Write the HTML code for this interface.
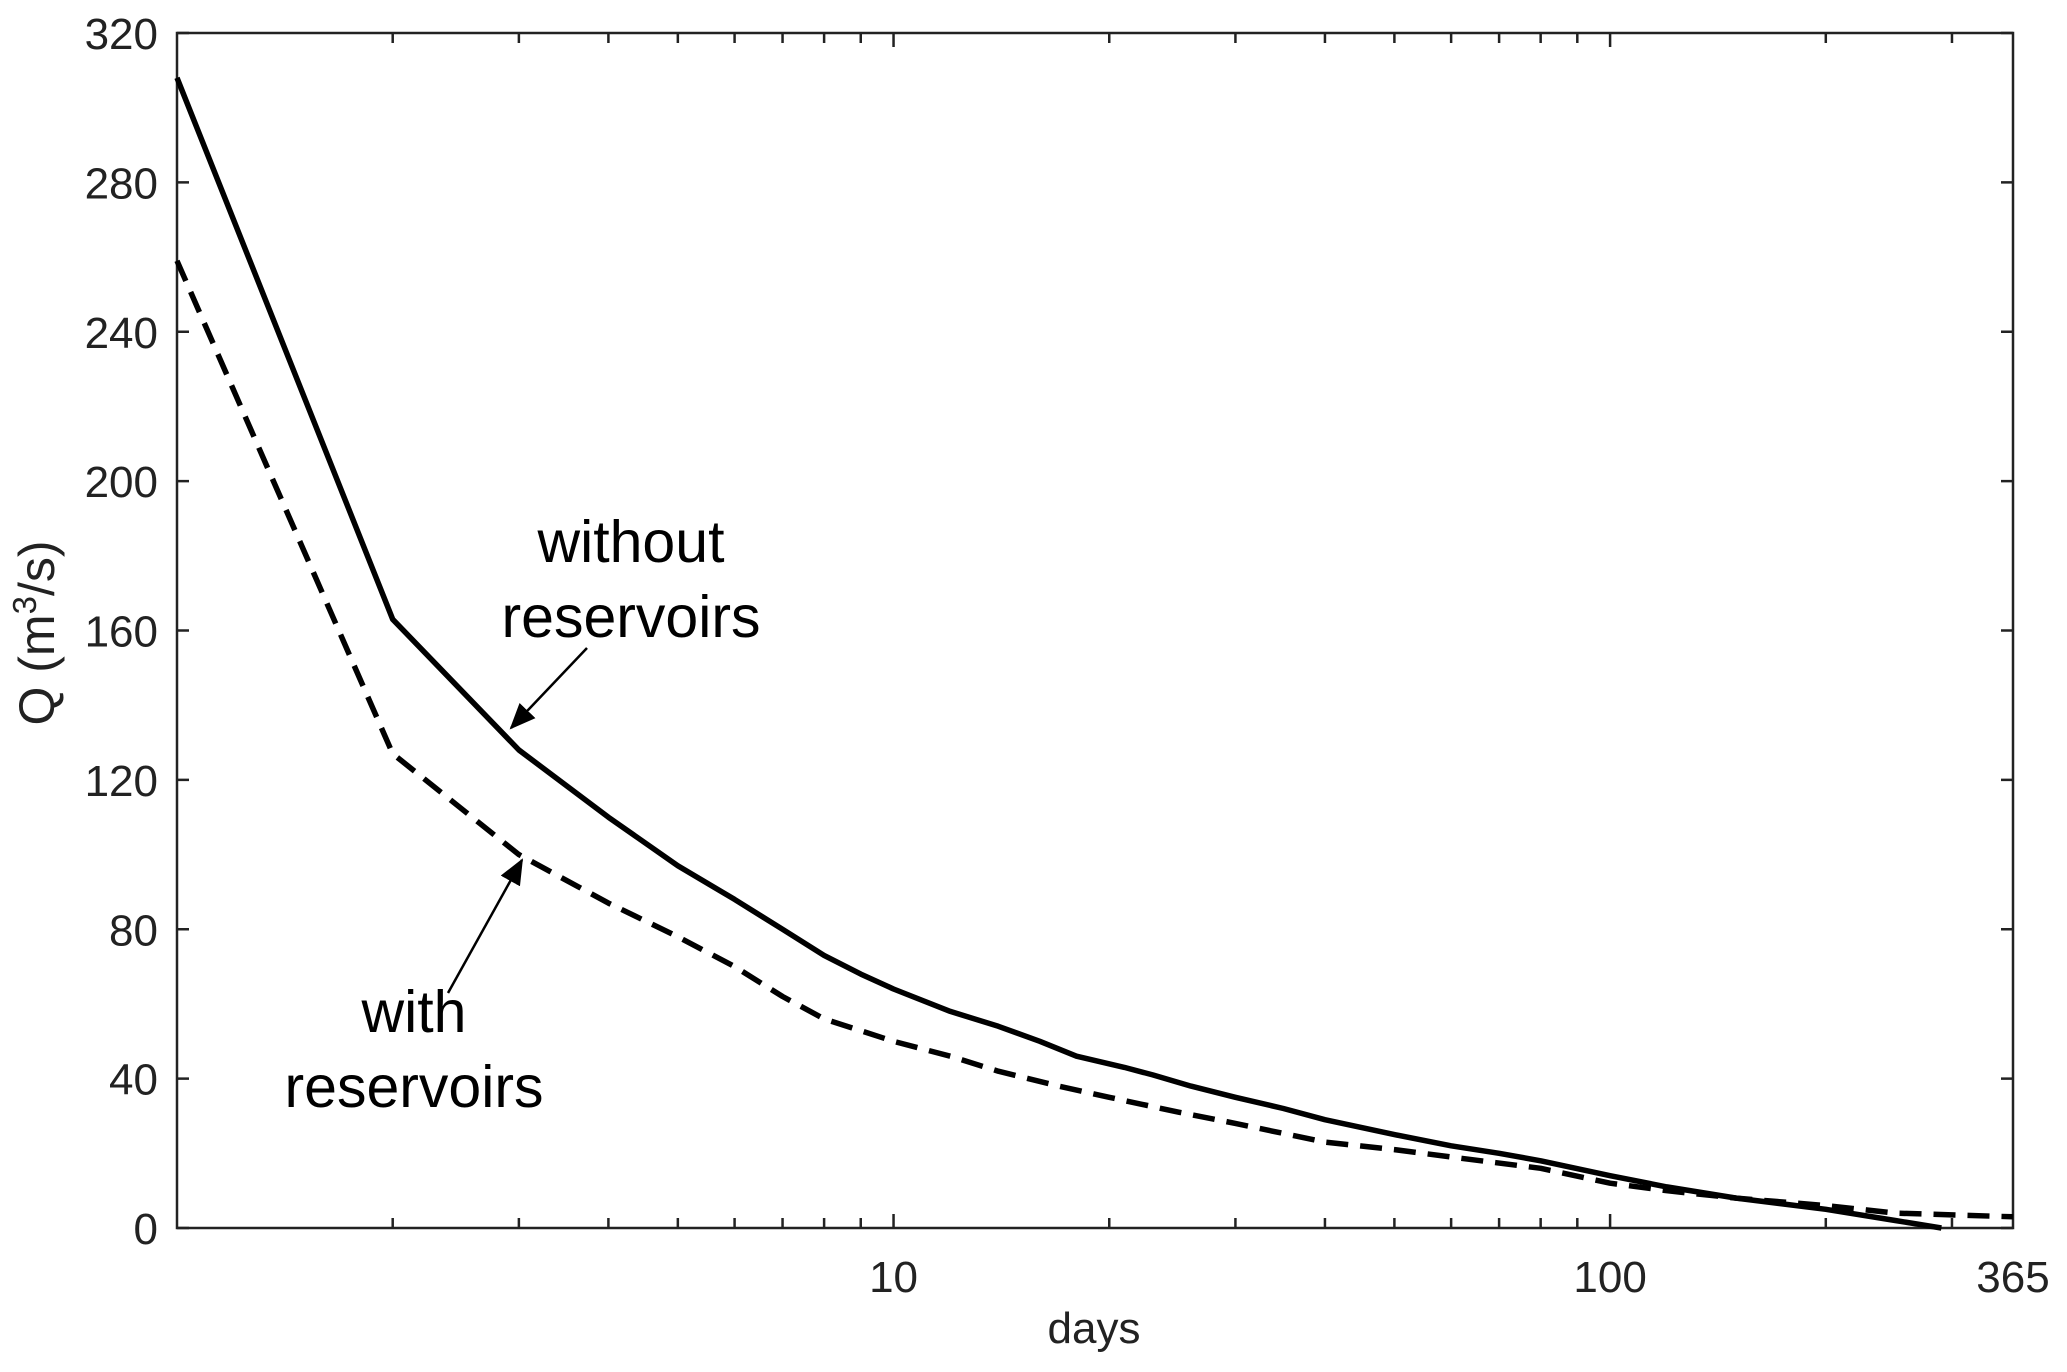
<!DOCTYPE html>
<html><head><meta charset="utf-8"><style>
html,body{margin:0;padding:0;background:#fff}
svg{display:block;font-family:"Liberation Sans",Arial,sans-serif}
</style></head><body>
<svg id="chart" width="2067" height="1372" viewBox="0 0 2067 1372">
<defs>
<marker id="ah2" markerWidth="26" markerHeight="22" refX="24" refY="11" orient="auto" markerUnits="userSpaceOnUse"><path d="M0,0 L26,11 L0,22 z" fill="#000"/></marker></defs>
<g id="axes"></g>
<g id="series"></g>
<g>
<text x="631" y="562" font-size="59" text-anchor="middle">without</text>
<text x="631" y="637" font-size="59" text-anchor="middle">reservoirs</text>
<line x1="587" y1="648" x2="511" y2="728" stroke="#000" stroke-width="2.5" marker-end="url(#ah2)"/>
</g>
<g>
<text x="414" y="1032" font-size="59" text-anchor="middle">with</text>
<text x="414" y="1107" font-size="59" text-anchor="middle">reservoirs</text>
<line x1="448" y1="993" x2="522" y2="860" stroke="#000" stroke-width="2.5" marker-end="url(#ah2)"/>
</g>
<text x="1094" y="1343" font-size="44" text-anchor="middle" fill="#222">days</text>
<text transform="translate(54,633) rotate(-90)" font-size="50" text-anchor="middle" fill="#222">Q (m<tspan baseline-shift="super" font-size="33">3</tspan>/s)</text>
</svg>
<script>
const yTicks=[0,40,80,120,160,200,240,280,320];
const xTickVals=[10,100,365];
const xTickLabels=["10","100","365"];
const withoutDays=[1,2,3,4,5,6,7,8,9,10,12,14,16,18,21,23,26,30,35,40,50,60,70,80,100,120,150,200,250,290];
const withoutQ=[308,163,128,110,97,88,80,73,68,64,58,54,50,46,43,41,38,35,32,29,25,22,20,18,14,11,8,5,2,0];
const withDays=[1,2,3,4,5,6,7,8,10,12,14,17,20,25,30,40,50,60,80,100,120,150,200,250,365];
const withQ=[259,127,100,87,78,70,62,56,50,46,42,38,35,31,28,23,21,19,16,12,10,8,6,4,3];

const L=177,R=2013,T=33,B=1228;
const xMin=1,xMax=365,yMin=0,yMax=320;
const sx=v=>L+(Math.log10(v)-Math.log10(xMin))/(Math.log10(xMax)-Math.log10(xMin))*(R-L);
const sy=v=>B-(v-yMin)/(yMax-yMin)*(B-T);
const NS="http://www.w3.org/2000/svg";
const axes=document.getElementById('axes');
const ser=document.getElementById('series');
function mk(tag,attrs,parent){const e=document.createElementNS(NS,tag);for(const k in attrs)e.setAttribute(k,attrs[k]);parent.appendChild(e);return e;}

const frame=mk('rect',{x:L,y:T,width:R-L,height:B-T,fill:'none',stroke:'#222','stroke-width':2.5},axes);



yTicks.forEach(v=>{
  const y=sy(v);
  const t1=mk('line',{x1:L,x2:L+12,y1:y,y2:y,stroke:'#222','stroke-width':2.5},axes);
  
  
  const t2=mk('line',{x1:R,x2:R-12,y1:y,y2:y,stroke:'#222','stroke-width':2.5},axes);
  
  
  const tx=mk('text',{x:L-19,y:y+16,'font-size':44,'text-anchor':'end',fill:'#222'},axes);
  tx.textContent=String(v);
  
  
});
const minor=[];
for(let d=1;d<=2;d++)for(let m=2;m<=9;m++){const v=m*Math.pow(10,d-1);if(v<xMax)minor.push(v);}
minor.push(200,300);
minor.concat(xTickVals.slice(0,2)).forEach(v=>{
  const x=sx(v);const len=xTickVals.includes(v)?14:10;
  const a=mk('line',{x1:x,x2:x,y1:B,y2:B-len,stroke:'#222','stroke-width':2.5},axes);
  
  
  const b=mk('line',{x1:x,x2:x,y1:T,y2:T+len,stroke:'#222','stroke-width':2.5},axes);
  
  
});
xTickVals.forEach((v,i)=>{
  const tx=mk('text',{x:sx(v),y:1292,'font-size':44,'text-anchor':'middle',fill:'#222'},axes);
  tx.textContent=xTickLabels[i];
  
  
});
function line(xs,ys,dash,name){
  const d=xs.map((v,i)=>(i?'L':'M')+sx(v).toFixed(1)+','+sy(ys[i]).toFixed(1)).join(' ');
  const p=mk('path',{d:d,fill:'none',stroke:'#000','stroke-width':5.5,'stroke-linejoin':'round'},ser);
  if(dash)p.setAttribute('stroke-dasharray',dash);
  
  
}
line(withoutDays,withoutQ,null,'line-without-reservoirs');
line(withDays,withQ,'22 12','line-with-reservoirs');
</script>
</body></html>
